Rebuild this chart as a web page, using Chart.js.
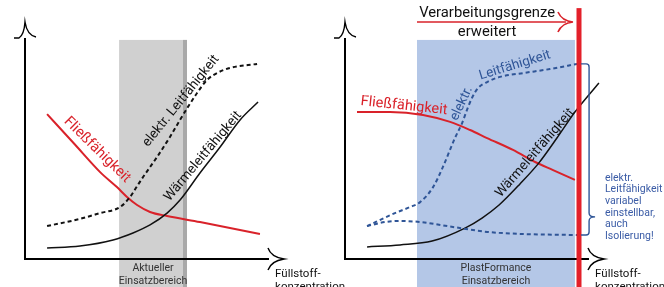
<!DOCTYPE html>
<html><head><meta charset="utf-8">
<script src="https://cdn.jsdelivr.net/npm/chart.js@4"></script>
<style>
body{margin:0;background:#fff;width:664px;height:287px;overflow:hidden;position:relative}
#l{position:absolute;left:0;top:0}
#r{position:absolute;left:332px;top:0}
</style></head><body>
<canvas id="l" width="350" height="287"></canvas>
<canvas id="r" width="332" height="287"></canvas>
<script>
// x = Füllstoffkonzentration (0..100), y = Eigenschaft (0..100)
const leftElektrX = [9.2, 22.9, 31.3, 39.6, 43.8, 46.7, 49.2, 55, 60.4, 64.6, 67.9, 71.7, 75.8, 80, 85.4, 96.7];
const leftElektrY = [14.7, 17.9, 20.5, 23.2, 27.7, 32.5, 36.6, 45.5, 54.5, 62.1, 67.9, 74.1, 79.9, 83.0, 85.3, 87.1];
const leftWaermeX = [9.2, 22.9, 36.7, 45, 52.1, 59.2, 64.6, 72.9, 81.3, 89.6, 97.1];
const leftWaermeY = [4.9, 5.8, 8.5, 11.6, 15.2, 20.5, 26.3, 38.4, 50, 62.1, 70.1];
const leftFliessX = [9.2, 20.8, 31.3, 38.3, 42.5, 46.7, 52.1, 59.2, 72.9, 97.9];
const leftFliessY = [64.7, 51.1, 38.8, 32.1, 27.7, 24.1, 21.0, 19.2, 16.5, 11.2];
const leftRange = [39.2, 67.5];   // aktueller Einsatzbereich

const rightElektrHiX = [9.2, 20.8, 27.1, 31.3, 36.7, 40.8, 45.8, 48.8, 50.8, 52.9, 55.4, 59.2, 64.6, 74.2, 85.4, 96.7];
const rightElektrHiY = [14.7, 20.5, 23.2, 25.4, 32.1, 41.1, 54.0, 60.7, 66.5, 71.9, 76.3, 79.0, 81.3, 83.0, 84.8, 87.1];
const rightElektrLoX = [9.2, 16.7, 22.9, 31.3, 45, 59.2, 72.9, 96.7];
const rightElektrLoY = [14.7, 16.5, 17.0, 16.5, 14.3, 12.1, 11.2, 10.7];
const rightWaermeX = [9.2, 22.9, 36.3, 50, 57.1, 64.2, 72.9, 80.8, 88.3, 95.8, 105.8];
const rightWaermeY = [5.4, 6.3, 8.0, 13.8, 18.3, 24.1, 33.5, 42.9, 54.0, 65.6, 78.6];
const rightFliessX = [5, 18.8, 32.5, 43.8, 52.1, 59.2, 70, 79.2, 86.7, 95.8];
const rightFliessY = [65.6, 65.6, 64.3, 61.2, 57.6, 54.0, 48.7, 43.3, 39.7, 35.3];
const rightRange = [30, 95.8];    // PlastFormance Einsatzbereich
const limitX = 97.5;              // Verarbeitungsgrenze

const braceText = ['elektr.', 'Leitfähigkeit', 'variabel', 'einstellbar,', 'auch', 'Isolierung!'];

const RED = '#d9222a', BLUE = '#2f5597', FONT = 'Roboto, sans-serif';

function pts(xs, ys) { return xs.map((x, i) => ({ x: x, y: ys[i] })); }

function line(data, color, width, dash) {
  return {
    data: data, borderColor: color, borderWidth: width, borderDash: dash || [],
    pointRadius: 0, cubicInterpolationMode: 'monotone', fill: false, clip: false
  };
}

function P(chart, x, y) {
  return [chart.scales.x.getPixelForValue(x), chart.scales.y.getPixelForValue(y)];
}

function txt(ctx, s, x, y, color, size, deg, align) {
  ctx.save();
  ctx.translate(x, y);
  ctx.rotate((deg || 0) * Math.PI / 180);
  ctx.fillStyle = color;
  ctx.font = size + 'px ' + FONT;
  ctx.textAlign = align || 'center';
  ctx.textBaseline = 'middle';
  ctx.fillText(s, 0, 0);
  ctx.restore();
}

function axes(ctx, ca) {
  ctx.save();
  ctx.strokeStyle = '#000';
  ctx.lineWidth = 2;
  ctx.beginPath();
  ctx.moveTo(ca.left, ca.top + 3);
  ctx.lineTo(ca.left, ca.bottom);
  ctx.lineTo(ca.right + 4, ca.bottom);
  ctx.stroke();
  ctx.lineWidth = 1.4;
  const tx = ca.left, ty = ca.top - 13;
  ctx.beginPath();
  ctx.moveTo(tx - 11, ca.top + 3);
  ctx.lineTo(tx - 6, ca.top + 3);
  ctx.quadraticCurveTo(tx - 1, ca.top, tx, ty);
  ctx.quadraticCurveTo(tx + 2, ca.top, tx + 11, ca.top + 2);
  ctx.stroke();
  const ax = ca.right + 19, ay = ca.bottom;
  ctx.beginPath();
  ctx.moveTo(ca.right + 3, ay - 11);
  ctx.quadraticCurveTo(ca.right + 6, ay - 2, ax, ay);
  ctx.quadraticCurveTo(ca.right + 6, ay + 2, ca.right + 3, ay + 11);
  ctx.stroke();
  ctx.restore();
}

function axisLabel(chart) {
  const ctx = chart.ctx;
  const a = P(chart, 104.2, -6.7);
  txt(ctx, 'Füllstoff-', a[0], a[1], '#111', 11.5, 0, 'left');
  txt(ctx, 'konzentration', a[0], a[1] + 13.5, '#111', 11.5, 0, 'left');
}

const leftDeco = {
  id: 'leftDeco',
  beforeDatasetsDraw(chart) {
    const ctx = chart.ctx, h = chart.height;
    const a = P(chart, leftRange[0], 97.8), b = P(chart, leftRange[1], 0);
    ctx.fillStyle = '#d0d0d0';
    ctx.fillRect(a[0], a[1], b[0] - a[0], h - a[1]);
    ctx.fillStyle = '#a9a9a9';
    ctx.fillRect(b[0] - 4, a[1], 4, h - a[1]);
  },
  afterDatasetsDraw(chart) {
    const ctx = chart.ctx;
    axes(ctx, chart.chartArea);
    let p = P(chart, 30, 48.7);
    txt(ctx, 'Fließfähigkeit', p[0], p[1], RED, 14.5, 44.5);
    p = P(chart, 65.0, 70.5);
    txt(ctx, 'elektr. Leitfähigkeit', p[0], p[1], '#111', 13.5, -51);
    p = P(chart, 74.2, 45.8);
    txt(ctx, 'Wärmeleitfähigkeit', p[0], p[1], '#111', 13.5, -50);
    const c = (leftRange[0] + leftRange[1]) / 2;
    p = P(chart, c, -4.0);
    txt(ctx, 'Aktueller', p[0], p[1], '#333', 10.5);
    txt(ctx, 'Einsatzbereich', p[0], p[1] + 13, '#333', 10.5);
    axisLabel(chart);
  }
};

const rightDeco = {
  id: 'rightDeco',
  beforeDatasetsDraw(chart) {
    const ctx = chart.ctx, h = chart.height;
    const a = P(chart, rightRange[0], 97.8), b = P(chart, rightRange[1], 0);
    ctx.fillStyle = '#b4c7e7';
    ctx.fillRect(a[0], a[1], b[0] - a[0], h - a[1]);
  },
  afterDatasetsDraw(chart) {
    const ctx = chart.ctx, h = chart.height;
    axes(ctx, chart.chartArea);
    // Grenze
    const g = P(chart, limitX, 112);
    ctx.fillStyle = '#e3202a';
    ctx.fillRect(g[0] - 2.5, g[1], 5, h - g[1]);
    // Pfeil Verarbeitungsgrenze
    const s = P(chart, 30, 105.8), e = P(chart, 90.4, 105.8), t = P(chart, 95, 105.8);
    ctx.save();
    ctx.strokeStyle = RED;
    ctx.lineWidth = 1.6;
    ctx.beginPath();
    ctx.moveTo(s[0], s[1]); ctx.lineTo(e[0] + 4, e[1]);
    ctx.stroke();
    ctx.beginPath();
    ctx.moveTo(e[0] - 4, e[1] - 10);
    ctx.quadraticCurveTo(e[0], e[1] - 1, t[0], t[1]);
    ctx.quadraticCurveTo(e[0], e[1] + 1, e[0] - 4, e[1] + 10);
    ctx.stroke();
    ctx.restore();
    let p = P(chart, 59.2, 109.6);
    txt(ctx, 'Verarbeitungsgrenze', p[0], p[1], '#111', 14.8);
    p = P(chart, 59.2, 101.3);
    txt(ctx, 'erweitert', p[0], p[1], '#111', 14.8);
    // Labels
    p = P(chart, 24.6, 68.3);
    txt(ctx, 'Fließfähigkeit', p[0], p[1], RED, 14.5, 6);
    p = P(chart, 48.6, 69.4);
    txt(ctx, 'elektr.', p[0], p[1], BLUE, 13.5, -65);
    p = P(chart, 70.8, 86.4);
    txt(ctx, 'Leitfähigkeit', p[0], p[1], BLUE, 13.5, -17);
    p = P(chart, 79.2, 47.3);
    txt(ctx, 'Wärmeleitfähigkeit', p[0], p[1], '#111', 13.5, -49);
    // Klammer
    const top = P(chart, 101.7, 87.1), bot = P(chart, 101.7, 10.7), tip = P(chart, 104.2, 18.8);
    const bx = top[0], l = g[0] + 2;
    ctx.save();
    ctx.strokeStyle = BLUE;
    ctx.lineWidth = 1.4;
    ctx.beginPath();
    ctx.moveTo(l, top[1]);
    ctx.lineTo(bx - 3, top[1]);
    ctx.quadraticCurveTo(bx, top[1], bx, top[1] + 3);
    ctx.lineTo(bx, tip[1] - 4);
    ctx.quadraticCurveTo(bx, tip[1], tip[0], tip[1]);
    ctx.quadraticCurveTo(bx, tip[1], bx, tip[1] + 4);
    ctx.lineTo(bx, bot[1] - 3);
    ctx.quadraticCurveTo(bx, bot[1], bx - 3, bot[1]);
    ctx.lineTo(l, bot[1]);
    ctx.stroke();
    ctx.restore();
    p = P(chart, 108.3, 36.2);
    braceText.forEach((s2, i) => txt(ctx, s2, p[0], p[1] + i * 11.7, '#3b5ca6', 10.5, 0, 'left'));
    const c = (rightRange[0] + rightRange[1]) / 2;
    p = P(chart, c, -4.0);
    txt(ctx, 'PlastFormance', p[0], p[1], '#333', 10.5);
    txt(ctx, 'Einsatzbereich', p[0], p[1] + 13, '#333', 10.5);
    axisLabel(chart);
  }
};

function opts(padL, padR) {
  return {
    responsive: false, animation: false, devicePixelRatio: 1,
    layout: { padding: { left: padL, right: padR, top: 35, bottom: 28 } },
    plugins: { legend: { display: false }, tooltip: { enabled: false } },
    scales: {
      x: { type: 'linear', min: 0, max: 100, display: false },
      y: { type: 'linear', min: 0, max: 100, display: false }
    }
  };
}

new Chart(document.getElementById('l'), {
  type: 'line',
  data: {
    datasets: [
      line(pts(leftElektrX, leftElektrY), '#111', 2, [4, 3]),
      line(pts(leftWaermeX, leftWaermeY), '#111', 1.5),
      line(pts(leftFliessX, leftFliessY), RED, 2)
    ]
  },
  options: opts(25, 85),
  plugins: [leftDeco]
});

new Chart(document.getElementById('r'), {
  type: 'line',
  data: {
    datasets: [
      line(pts(rightElektrHiX, rightElektrHiY), BLUE, 2, [4, 3]),
      line(pts(rightElektrLoX, rightElektrLoY), BLUE, 2, [4, 3]),
      line(pts(rightWaermeX, rightWaermeY), '#111', 1.5),
      line(pts(rightFliessX, rightFliessY), RED, 2)
    ]
  },
  options: opts(13, 79),
  plugins: [rightDeco]
});
</script>
</body></html>
